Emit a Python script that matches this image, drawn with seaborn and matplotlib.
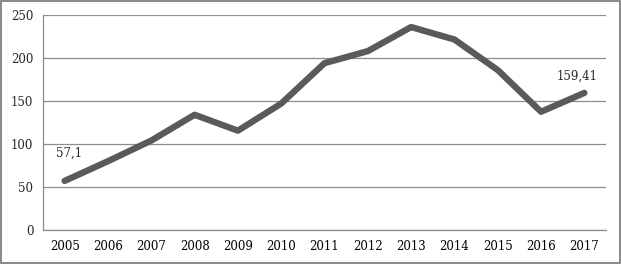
import matplotlib
matplotlib.use("Agg")
import matplotlib.pyplot as plt
import pandas as pd
import seaborn as sns
from matplotlib.ticker import FixedLocator

years = ["2005", "2006", "2007", "2008", "2009", "2010", "2011",
         "2012", "2013", "2014", "2015", "2016", "2017"]
values = [57.1, 80, 104, 134, 115.5, 147, 194, 208, 236, 221.5, 186, 137.5, 159.41]
labels = {"2005": "57,1", "2017": "159,41"}
# label offsets in points (dx, dy) from the data point
label_offsets = {"2005": (3, 20), "2017": (-5, 12)}

df = pd.DataFrame({"year": years, "value": values})

sns.set_style("white")
plt.rcParams["font.family"] = ["DejaVu Serif"]

fig = plt.figure(figsize=(6.21, 2.64), dpi=100)
ax = fig.add_axes([43 / 621, 34 / 264, 563 / 621, 215 / 264])

sns.lineplot(data=df, x="year", y="value", ax=ax, color="#5a5a5a",
             linewidth=4.6, solid_capstyle="round", solid_joinstyle="round", sort=False)

ax.set_xlim(-0.5, len(years) - 0.5)
ax.set_ylim(0, 250)
ax.set_yticks(range(0, 251, 50))
ax.yaxis.grid(True, color="#8c8c8c", linewidth=0.9)
ax.set_axisbelow(True)

ax.set_xlabel("")
ax.set_ylabel("")
for side in ["top", "right"]:
    ax.spines[side].set_visible(False)
for side in ["left", "bottom"]:
    ax.spines[side].set_color("#8c8c8c")
    ax.spines[side].set_linewidth(0.9)

ax.tick_params(axis="x", which="major", length=0, pad=7, labelsize=8.5, colors="black")
ax.xaxis.set_minor_locator(FixedLocator([i - 0.5 for i in range(len(years) + 1)]))
ax.tick_params(axis="x", which="minor", length=4, width=0.9, color="#8c8c8c", direction="out")
ax.tick_params(axis="y", length=4, width=0.9, color="#8c8c8c", pad=3, labelsize=8.5)

for i, (yr, v) in enumerate(zip(years, values)):
    if yr in labels:
        ax.annotate(labels[yr], (i, v), xytext=label_offsets[yr], textcoords="offset points",
                    ha="center", va="center", fontsize=8.5)

fig.patch.set_edgecolor("#8c8c8c")
fig.patch.set_linewidth(1.5)
fig.savefig("out.png", dpi=100, edgecolor=fig.get_edgecolor())
